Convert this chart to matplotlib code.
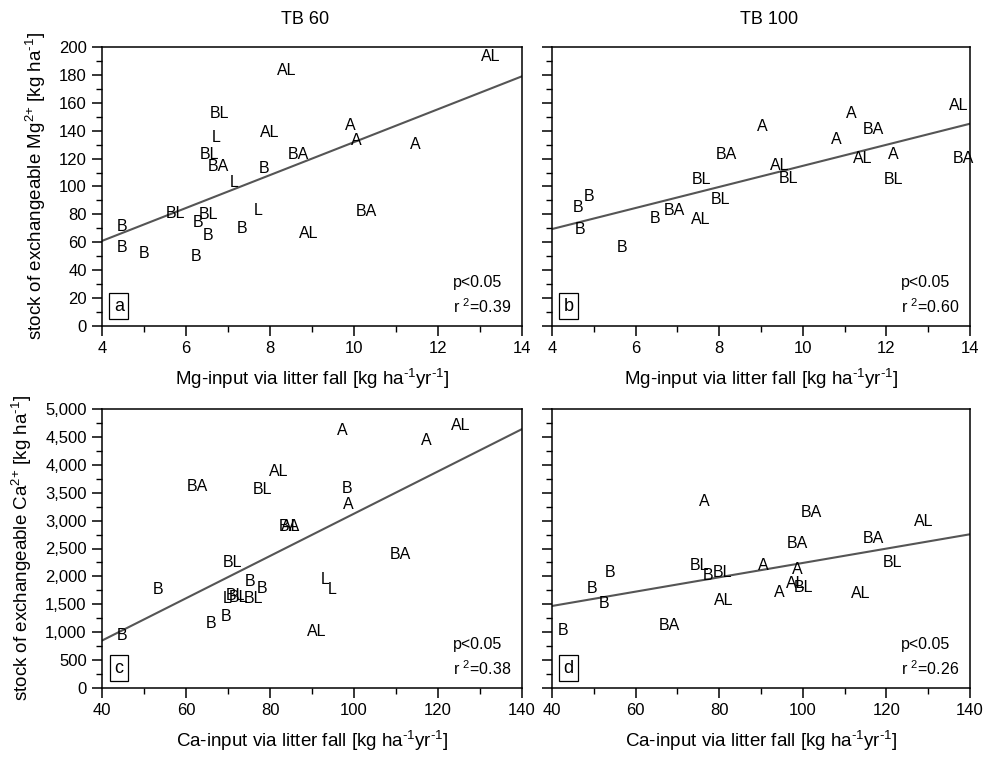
import numpy as np
from matplotlib import pyplot as plt
from matplotlib.ticker import MultipleLocator, FuncFormatter

plt.rcParams['font.family'] = ['Liberation Sans', 'DejaVu Sans']
plt.rcParams['mathtext.fontset'] = 'custom'
plt.rcParams['mathtext.rm'] = 'Liberation Sans'
plt.rcParams['mathtext.default'] = 'regular'

# panel a: Mg, TB 60
a_lab = ['AL', 'BL', 'L', 'AL', 'BL', 'BA', 'B', 'BA', 'L', 'BL', 'BL', 'B', 'B',
         'L', 'B', 'AL', 'B', 'B', 'B', 'B', 'AL', 'A', 'A', 'A', 'BA']
a_x = [8.4, 6.8, 6.73, 8.0, 6.55, 6.77, 7.86, 8.67, 7.15, 5.74, 6.53, 6.29, 6.52,
       7.72, 7.34, 8.93, 4.48, 4.47, 5.01, 6.23, 13.25, 9.9, 10.06, 11.47, 10.3]
a_y = [183, 152, 135, 139, 123, 114, 113, 123, 103, 81, 80, 74.5, 65,
       83, 70, 66, 71, 56, 52, 50, 193, 144, 133, 130, 82]
a_fit = [61, 179]      # line value at x=4 and x=14

# panel b: Mg, TB 100
b_lab = ['AL', 'A', 'BA', 'A', 'A', 'BA', 'AL', 'A', 'BA', 'AL', 'BL', 'BL', 'BL',
         'BL', 'B', 'B', 'B', 'B', 'BA', 'AL', 'B']
b_x = [13.72, 11.15, 11.70, 9.02, 10.81, 8.18, 11.43, 12.17, 13.83, 9.45, 9.65, 7.58, 12.17,
       8.04, 4.63, 4.89, 4.67, 6.46, 6.92, 7.56, 5.68]
b_y = [158, 152.5, 141, 143, 134, 123, 120, 122.6, 120, 115, 106, 105, 105,
       91, 85, 93, 69.5, 77, 83, 76, 56]
b_fit = [69.5, 145]

# panel c: Ca, TB 60
c_lab = ['A', 'AL', 'BA', 'BL', 'B', 'BA', 'AL', 'BL', 'B', 'B', 'B', 'L', 'BL',
         'BL', 'BL', 'L', 'L', 'B', 'B', 'AL', 'B', 'AL', 'A', 'A', 'BA']
c_x = [97.1, 82.0, 62.7, 78.2, 98.3, 84.6, 85.0, 71.1, 53.4, 75.2, 78.0, 69.7, 71.8,
       72.6, 76.0, 93.1, 94.9, 65.9, 69.5, 91.1, 44.7, 125.4, 117.1, 98.65, 111]
c_y = [4611, 3877, 3608, 3560, 3578, 2900, 2890, 2252, 1774, 1917, 1786, 1610, 1650,
       1620, 1610, 1948, 1769, 1159, 1290, 1009, 932, 4701, 4444, 3292, 2396]
c_fit = [850, 4640]    # line value at x=40 and x=140

# panel d: Ca, TB 100
d_lab = ['A', 'BA', 'AL', 'BA', 'BA', 'BL', 'B', 'BL', 'B', 'BL', 'A', 'A', 'AL',
         'BL', 'A', 'AL', 'B', 'B', 'AL', 'BA', 'B']
d_x = [76.4, 102, 129, 98.8, 116.9, 121.4, 53.9, 75.4, 77.4, 80.7, 90.6, 98.7, 98.2,
       100.1, 94.4, 113.85, 49.6, 52.5, 81, 68.1, 42.6]
d_y = [3339, 3142, 2981, 2593, 2683, 2253, 2073, 2192, 2025, 2073, 2192, 2132, 1864,
       1798, 1715, 1697, 1787, 1518, 1577, 1117, 1022]
d_fit = [1470, 2755]

stats = {'a': ('p<0.05', '0.39'), 'b': ('p<0.05', '0.60'),
         'c': ('p<0.05', '0.38'), 'd': ('p<0.05', '0.26')}

mg_xlabel = r'Mg-input via litter fall [kg ha$^{\text{-}1}$yr$^{\text{-}1}$]'
ca_xlabel = r'Ca-input via litter fall [kg ha$^{\text{-}1}$yr$^{\text{-}1}$]'
mg_ylabel = r'stock of exchangeable Mg$^{\text{2+}}$ [kg ha$^{\text{-}1}$]'
ca_ylabel = r'stock of exchangeable Ca$^{\text{2+}}$ [kg ha$^{\text{-}1}$]'

W, H = 988, 757
fig = plt.figure(figsize=(W / 100, H / 100), dpi=100)


def box(l, r, t, b):
    return [l / W, 1 - b / H, (r - l) / W, (b - t) / H]


panels = [
    ('a', box(102, 522, 47, 326), a_lab, a_x, a_y, a_fit, (4, 14), (0, 200), 2, 1, 20, 10, mg_xlabel, mg_ylabel),
    ('b', box(552, 970, 47, 326), b_lab, b_x, b_y, b_fit, (4, 14), (0, 200), 2, 1, 20, 10, mg_xlabel, None),
    ('c', box(102, 522, 409, 688), c_lab, c_x, c_y, c_fit, (40, 140), (0, 5000), 20, 10, 500, 250, ca_xlabel, ca_ylabel),
    ('d', box(552, 970, 409, 688), d_lab, d_x, d_y, d_fit, (40, 140), (0, 5000), 20, 10, 500, 250, ca_xlabel, None),
]

for name, pos, labs, xs, ys, fit, xlim, ylim, xmaj, xmin, ymaj, ymin, xlab, ylab in panels:
    ax = fig.add_axes(pos)
    ax.set_xlim(*xlim)
    ax.set_ylim(*ylim)
    ax.plot(xlim, fit, color='#555555', lw=1.5)
    for t, x, y in zip(labs, xs, ys):
        ax.text(x, y, t, ha='center', va='center', fontsize=11.5)
    ax.xaxis.set_major_locator(MultipleLocator(xmaj))
    ax.xaxis.set_minor_locator(MultipleLocator(xmin))
    ax.yaxis.set_major_locator(MultipleLocator(ymaj))
    ax.yaxis.set_minor_locator(MultipleLocator(ymin))
    ax.tick_params(which='major', direction='out', length=7, width=1.1, labelsize=12, pad=4)
    ax.tick_params(which='minor', direction='out', length=4, width=1.0)
    if ylim[1] > 1000:
        ax.yaxis.set_major_formatter(FuncFormatter(lambda v, p: f'{v:,.0f}'))
    if ylab is None:
        ax.tick_params(axis='y', labelleft=False)
    else:
        ax.set_ylabel(ylab, fontsize=13.5, labelpad=8)
    ax.set_xlabel(xlab, fontsize=13.5, labelpad=8)
    for s in ax.spines.values():
        s.set_linewidth(1.1)
    ax.text(0.04, 0.07, name, transform=ax.transAxes, fontsize=13, ha='center', va='center',
            bbox=dict(boxstyle='square,pad=0.25', fc='white', ec='black', lw=0.9))
    p, r2 = stats[name]
    ax.text(0.835, 0.155, p, transform=ax.transAxes, fontsize=11.5, va='center')
    ax.text(0.835, 0.07, 'r $^{2}$=' + r2, transform=ax.transAxes, fontsize=11.5, va='center')

fig.text(305 / W, 1 - 20 / H, 'TB 60', ha='center', va='center', fontsize=13)
fig.text(769 / W, 1 - 20 / H, 'TB 100', ha='center', va='center', fontsize=13)

fig.savefig('out.png', dpi=100)
